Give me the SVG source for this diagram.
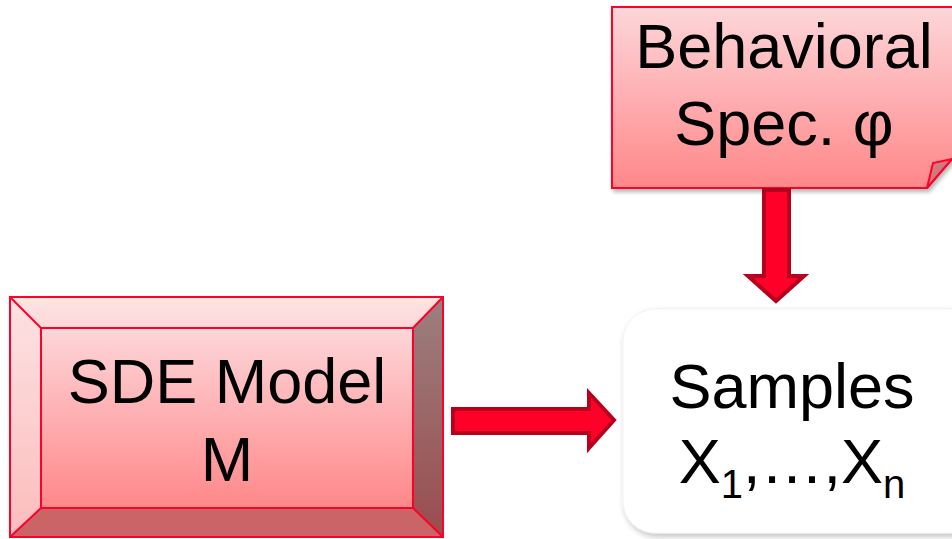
<svg xmlns="http://www.w3.org/2000/svg" width="952" height="539" viewBox="0 0 952 539">
  <defs>
    <linearGradient id="pinkFill" x1="0" y1="0" x2="0" y2="1">
      <stop offset="0" stop-color="#fdd6d9"/>
      <stop offset="1" stop-color="#ff8789"/>
    </linearGradient>
    <linearGradient id="bevelTop" x1="0" y1="0" x2="0" y2="1">
      <stop offset="0" stop-color="#fde4e4"/>
      <stop offset="1" stop-color="#fdd8d8"/>
    </linearGradient>
    <linearGradient id="bevelLeft" x1="0" y1="0" x2="0" y2="1">
      <stop offset="0" stop-color="#fde2e3"/>
      <stop offset="1" stop-color="#fcbcbc"/>
    </linearGradient>
    <linearGradient id="bevelRight" x1="0" y1="0" x2="0" y2="1">
      <stop offset="0" stop-color="#9c7f7f"/>
      <stop offset="1" stop-color="#9a4c4e"/>
    </linearGradient>
    <filter id="shadow" x="-10%" y="-10%" width="130%" height="130%">
      <feGaussianBlur in="SourceAlpha" stdDeviation="2"/>
      <feOffset dx="2" dy="3" result="b"/>
      <feComponentTransfer><feFuncA type="linear" slope="0.3"/></feComponentTransfer>
      <feMerge><feMergeNode/><feMergeNode in="SourceGraphic"/></feMerge>
    </filter>
    <filter id="softShadow" x="-10%" y="-10%" width="130%" height="130%">
      <feGaussianBlur in="SourceAlpha" stdDeviation="3"/>
      <feOffset dx="2" dy="3" result="b"/>
      <feComponentTransfer><feFuncA type="linear" slope="0.25"/></feComponentTransfer>
      <feMerge><feMergeNode/><feMergeNode in="SourceGraphic"/></feMerge>
    </filter>
  </defs>
  <style>
    .label { font-family: "Liberation Sans", Arial, sans-serif; font-size: 63px; fill: #000; text-anchor: middle; }
    .edge { stroke: #ff0028; stroke-width: 2; }
    .arrow { fill: #ff0028; stroke: #b8001e; stroke-width: 4; stroke-linejoin: miter; }
  </style>

  <!-- Behavioral specification: note with a folded corner -->
  <g id="spec">
    <path d="M612,7 H960 V160 L952,159 L927,188 H612 Z" fill="url(#pinkFill)" class="edge" filter="url(#shadow)"/>
    <path d="M927,188 L933,163 L952,159 Z" fill="#cf7a7c" class="edge"/>
    <text class="label" x="784" y="68">Behavioral</text>
    <text class="label" x="784" y="145">Spec. φ</text>
  </g>

  <!-- SDE model: bevelled button -->
  <g id="model">
    <rect x="10" y="297" width="433" height="240" fill="url(#pinkFill)"/>
    <polygon points="10,297 443,297 413,328 41,328" fill="url(#bevelTop)"/>
    <polygon points="10,297 41,328 41,508 10,537" fill="url(#bevelLeft)"/>
    <polygon points="443,297 443,537 413,508 413,328" fill="url(#bevelRight)"/>
    <polygon points="10,537 41,508 413,508 443,537" fill="#ca6466"/>
    <rect x="41" y="328" width="372" height="180" fill="url(#pinkFill)" class="edge"/>
    <g class="edge">
      <line x1="10" y1="297" x2="41" y2="328"/>
      <line x1="443" y1="297" x2="413" y2="328"/>
      <line x1="10" y1="537" x2="41" y2="508"/>
      <line x1="443" y1="537" x2="413" y2="508"/>
    </g>
    <rect x="10" y="297" width="433" height="240" fill="none" class="edge"/>
    <text class="label" x="227" y="403">SDE Model</text>
    <text class="label" x="227" y="481">M</text>
  </g>

  <!-- Samples: rounded white box -->
  <g id="samples">
    <rect x="623" y="309" width="360" height="224" rx="32" ry="32" fill="#ffffff" stroke="#f2f2f2" stroke-width="1" filter="url(#softShadow)"/>
    <text class="label" x="792" y="408">Samples</text>
    <text class="label" x="792" y="483">X<tspan font-size="40" dy="15">1</tspan><tspan dy="-15">,…,X</tspan><tspan font-size="40" dy="15">n</tspan></text>
  </g>

  <!-- Connectors: block arrows -->
  <g id="connectors">
    <polygon class="arrow" points="764,190 789,190 789,276 804,276 776,301 748,276 764,276"/>
    <polygon class="arrow" points="453,409 589,409 589,393 614,420 589,448 589,433 453,433"/>
  </g>
</svg>
